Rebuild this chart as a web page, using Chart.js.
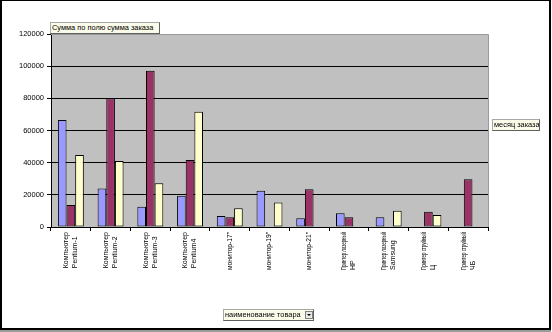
<!DOCTYPE html>
<html>
<head>
<meta charset="utf-8">
<script src="https://cdn.jsdelivr.net/npm/chart.js@4"></script>
<style>
  body { margin: 0; background: #fff; }
  #wrap { position: relative; width: 552px; height: 332px; overflow: hidden; }
  #frame { position: absolute; left: 0; top: 0; width: 551px; height: 330px; box-sizing: border-box;
           border-top: 1px solid #000; border-left: 2px solid #000; border-right: 2px solid #000; border-bottom: 2px solid #000; }
  #shadow { position: absolute; left: 0; top: 330px; width: 551px; height: 2px; background: #9a9a9a; }
  .field { position: absolute; box-sizing: border-box; background: #fbfbe9; border: 1px solid #a8a8a8;
           border-right-color: #606060; border-bottom-color: #606060;
           font: 7.4px "Liberation Sans", Arial, sans-serif; line-height: 10px; padding-left: 1px;
           white-space: nowrap; overflow: hidden; color: #000; }
  .drop { position: absolute; right: 0; top: 1px; width: 8px; height: 8px; box-sizing: border-box;
          background: #e8e8e8; border: 1px solid #808080; }
  .drop::after { content: ""; position: absolute; left: 1px; top: 2px; border-left: 2px solid transparent;
                 border-right: 2px solid transparent; border-top: 2px solid #000; }
</style>
</head>
<body>
<div id="wrap">
  <canvas id="chart" width="552" height="332"></canvas>
  <div id="frame"></div>
  <div id="shadow"></div>
  <div class="field" style="left:50px;top:22px;width:110px;height:12px;">Сумма по полю сумма заказа</div>
  <div class="field" style="left:492px;top:119px;width:48px;height:12px;">месяц заказа</div>
  <div class="field" style="left:223px;top:309px;width:91px;height:12px;padding-right:9px;">наименование товара<div class="drop"></div></div>
</div>
<script>
const categories = [
    ["Компьютер", "Pentium-1"],
    ["Компьютер", "Pentium-2"],
    ["Компьютер", "Pentium-3"],
    ["Компьютер", "Pentium4"],
    ["монитор-17\""],
    ["монитор-19\""],
    ["монитор-21\""],
    ["Принтер лазерный", "HP"],
    ["Принтер лазерный", "Samsung"],
    ["Принтер струйный", "Ц"],
    ["Принтер струйный", "ЧБ"],
];

const month1 = [66500, 24000, 12600, 19500, 6800, 22600, 5400, 8500, 6000, null, null];
const month2 = [13700, 80000, 97200, 41700, 6000, null, 23400, 6000, null, 9500, 29700];
const month3 = [44800, 41000, 27200, 71700, 11600, 15300, null, null, 10100, 7400, null];

const yTicks = [0, 20000, 40000, 60000, 80000, 100000, 120000];

const FONT = "Liberation Sans";

// plot area background, its grey frame and the rotated category labels
const plotDecor = {
    id: "plotDecor",
    beforeDraw(chart) {
        const { ctx, chartArea: a } = chart;
        ctx.save();
        ctx.fillStyle = "#c0c0c0";
        ctx.fillRect(a.left, a.top, a.right - a.left, a.bottom - a.top);
        ctx.restore();
    },
    afterDraw(chart) {
        const { ctx, chartArea: a } = chart;
        const x = chart.scales.x;
        ctx.save();
        ctx.strokeStyle = "#9a9a9a";
        ctx.lineWidth = 1;
        ctx.beginPath();
        ctx.moveTo(a.left, a.top + 0.5);
        ctx.lineTo(a.right + 0.5, a.top + 0.5);
        ctx.lineTo(a.right + 0.5, a.bottom);
        ctx.stroke();

        ctx.fillStyle = "#000";
        ctx.font = `7px "${FONT}"`;
        ctx.textAlign = "left";
        ctx.textBaseline = "middle";
        const lineH = 9;
        const maxLen = 38;
        categories.forEach((lines, i) => {
            const cx = x.getPixelForValue(i);
            const maxW = Math.min(maxLen, Math.max(...lines.map(l => ctx.measureText(l).width)));
            const startY = x.top + 5 + maxW;
            lines.forEach((line, j) => {
                const lx = cx - (lines.length - 1) * lineH / 2 + j * lineH;
                ctx.save();
                ctx.translate(lx, startY);
                ctx.rotate(-Math.PI / 2);
                ctx.fillText(line, 0, 0, maxLen);
                ctx.restore();
            });
        });
        ctx.restore();
    },
};

const barStyle = { borderColor: "#000", borderWidth: 1, borderSkipped: false, barPercentage: 1, categoryPercentage: 0.653 };

new Chart(document.getElementById("chart").getContext("2d"), {
    type: "bar",
    data: {
        labels: categories,
        datasets: [
            { label: "1", data: month1, backgroundColor: "#9999ff", ...barStyle },
            { label: "2", data: month2, backgroundColor: "#993366", ...barStyle },
            { label: "3", data: month3, backgroundColor: "#ffffcc", ...barStyle },
        ],
    },
    options: {
        responsive: false,
        animation: false,
        events: [],
        layout: { padding: { left: 0, top: 34, right: 64, bottom: 0 } },
        plugins: { legend: { display: false }, tooltip: { enabled: false } },
        scales: {
            x: {
                afterFit(scale) { scale.height = 105; },
                ticks: { display: false },
                grid: { offset: true, drawOnChartArea: false, drawTicks: true, tickLength: 4, color: "#000" },
                border: { display: true, color: "#000" },
            },
            y: {
                min: 0,
                max: 120000,
                afterFit(scale) { scale.width = 51; },
                afterBuildTicks(scale) { scale.ticks = yTicks.map(v => ({ value: v })); },
                ticks: {
                    color: "#000",
                    padding: 3,
                    font: { family: FONT, size: 7.5 },
                    callback: v => String(v),
                },
                grid: {
                    color: ctx => (ctx.tick && ctx.tick.value === 120000 ? "#9a9a9a" : "#000"),
                    tickLength: 4,
                    tickColor: "#000",
                },
                border: { display: true, color: "#000" },
            },
        },
    },
    plugins: [plotDecor],
});
</script>
</body>
</html>
